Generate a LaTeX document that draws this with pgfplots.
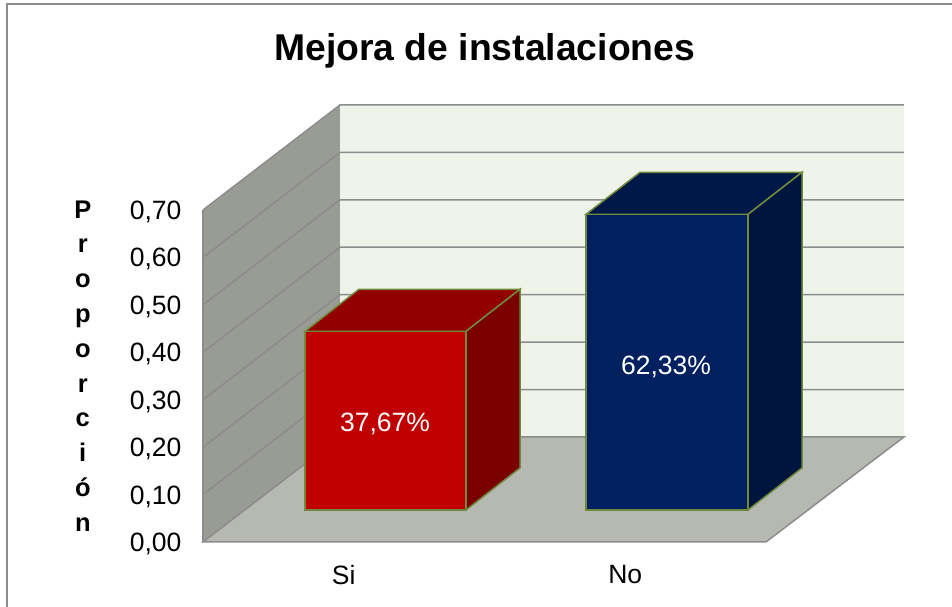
\documentclass[border=0pt]{standalone}
\usepackage{fontspec}
\setmainfont{Liberation Sans}
\usepackage{pgfplots}
\pgfplotsset{compat=1.18}
\definecolor{floorc}{HTML}{B6B8B2}
\definecolor{wallc}{HTML}{999B95}
\definecolor{backc}{HTML}{EFF4EB}
\definecolor{gridc}{HTML}{8C8C8C}
\definecolor{edgec}{HTML}{6F8A3A}
\definecolor{redf}{HTML}{C00000}
\definecolor{redt}{HTML}{930000}
\definecolor{reds}{HTML}{7A0000}
\definecolor{bluef}{HTML}{00205F}
\definecolor{bluet}{HTML}{001848}
\definecolor{blues}{HTML}{00153D}
\begin{document}
\begin{tikzpicture}
\begin{axis}[
  scale only axis, width=563pt, height=332pt,
  xmin=-0.5, xmax=1.5, ymin=0, ymax=0.7,
  clip=false,
  axis line style={draw=none},
  tick style={draw=none},
  major tick length=0pt,
  xtick={0,1}, xticklabels={Si,No},
  ytick={0,0.1,0.2,0.3,0.4,0.5,0.6,0.7},
  yticklabel style={/pgf/number format/fixed,/pgf/number format/fixed zerofill,
    /pgf/number format/precision=2,/pgf/number format/use comma,
    /pgf/number format/assume math mode=true},
  tick label style={font=\fontsize{26.5}{30}\selectfont},
  xticklabel style={yshift=-19.5pt},
  yticklabel style={xshift=-18pt, yshift=-2pt},
  title={Mejora de instalaciones},
  title style={font=\fontsize{37.3}{44}\bfseries\selectfont, at={(axis description cs:0.5005,1.461)}, anchor=center},
  ylabel={P\\r\\o\\p\\o\\r\\c\\i\\ó\\n},
  ylabel style={font=\fontsize{25.5}{34.8}\bfseries\selectfont, align=center, rotate=-90,
    at={(axis description cs:-0.2135,0.53)}, anchor=center},
]
% picture extent and outer frame
\path[use as bounding box] (axis cs:-1.2211,-0.13705) rectangle (axis cs:2.1607,1.1427);
\addplot[draw=gridc, line width=2pt, forget plot] coordinates {(-1.1963,-0.13705) (-1.1963,1.1343) (2.1607,1.1343)};
% side wall, back wall, floor
\addplot[fill=wallc, draw=none, forget plot] coordinates {(-0.5,0) (-0.5,0.7) (-0.0133,0.9214) (-0.0133,0.2214)} -- cycle;
\addplot[fill=backc, draw=none, forget plot] coordinates {(-0.0133,0.2214) (-0.0133,0.9214) (1.990,0.9214) (1.990,0.2214)} -- cycle;
\addplot[fill=floorc, draw=gridc, line width=1.5pt, forget plot] coordinates {(-0.5,0) (1.5,0) (1.990,0.2214) (-0.0133,0.2214)} -- cycle;
% gridlines
\addplot[gridc, line width=1.5pt, forget plot] coordinates {(-0.5,0.1) (-0.0133,0.3214) (1.990,0.3214)};
\addplot[gridc, line width=1.5pt, forget plot] coordinates {(-0.5,0.2) (-0.0133,0.4214) (1.990,0.4214)};
\addplot[gridc, line width=1.5pt, forget plot] coordinates {(-0.5,0.3) (-0.0133,0.5214) (1.990,0.5214)};
\addplot[gridc, line width=1.5pt, forget plot] coordinates {(-0.5,0.4) (-0.0133,0.6214) (1.990,0.6214)};
\addplot[gridc, line width=1.5pt, forget plot] coordinates {(-0.5,0.5) (-0.0133,0.7214) (1.990,0.7214)};
\addplot[gridc, line width=1.5pt, forget plot] coordinates {(-0.5,0.6) (-0.0133,0.8214) (1.990,0.8214)};
\addplot[gridc, line width=1.5pt, forget plot] coordinates {(-0.5,0.7) (-0.0133,0.9214) (1.990,0.9214)};
\addplot[gridc, line width=1.5pt, forget plot] coordinates {(-0.5,0) (-0.5,0.7)};
% Si bar, 37.67 % (front face starts 0.0675 above the axis floor)
\addplot[fill=redt, draw=edgec, line width=1.5pt, forget plot] coordinates {(-0.1377,0.4442) (0.4343,0.4442) (0.6261,0.5328) (0.0541,0.5328)} -- cycle;
\addplot[fill=reds, draw=edgec, line width=1.5pt, forget plot] coordinates {(0.4343,0.0675) (0.6261,0.1561) (0.6261,0.5328) (0.4343,0.4442)} -- cycle;
\addplot[fill=redf, draw=edgec, line width=1.5pt, forget plot] table[y expr=\thisrow{v}+0.0675, x=x, row sep=\\] {x v\\ -0.1377 0\\ -0.1377 0.3767\\ 0.4343 0.3767\\ 0.4343 0\\} -- cycle;
% No bar, 62.33 %
\addplot[fill=bluet, draw=edgec, line width=1.5pt, forget plot] coordinates {(0.8606,0.6908) (1.4361,0.6908) (1.6279,0.7794) (1.0524,0.7794)} -- cycle;
\addplot[fill=blues, draw=edgec, line width=1.5pt, forget plot] coordinates {(1.4361,0.0675) (1.6279,0.1561) (1.6279,0.7794) (1.4361,0.6908)} -- cycle;
\addplot[fill=bluef, draw=edgec, line width=1.5pt, forget plot] table[y expr=\thisrow{v}+0.0675, x=x, row sep=\\] {x v\\ 0.8606 0\\ 0.8606 0.6233\\ 1.4361 0.6233\\ 1.4361 0\\} -- cycle;
% value labels
\node[white, font=\fontsize{26.5}{30}\selectfont] at (axis cs:0.1465,0.2488) {37,67\%};
\node[white, font=\fontsize{26.5}{30}\selectfont] at (axis cs:1.1447,0.369) {62,33\%};
\end{axis}
\end{tikzpicture}
\end{document}
